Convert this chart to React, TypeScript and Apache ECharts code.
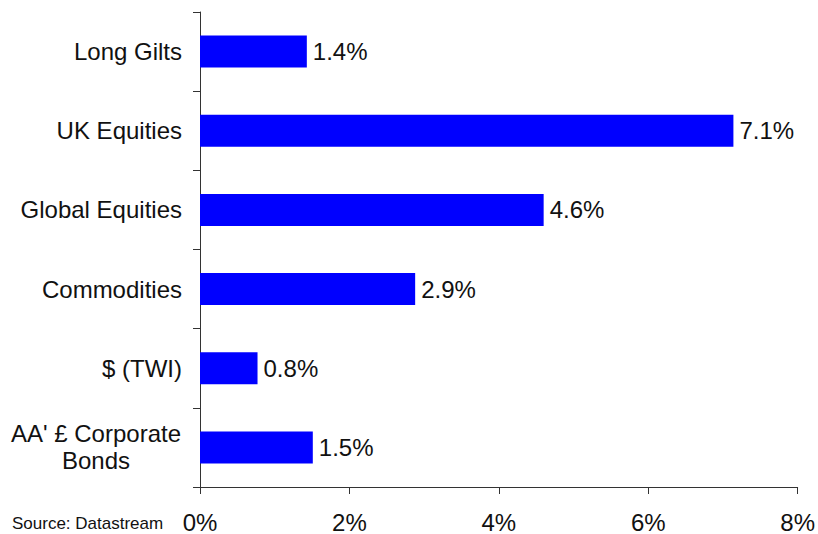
import React, { useEffect, useRef } from "react";
import * as echarts from "echarts";

const categories = [
  "Long Gilts",
  "UK Equities",
  "Global Equities",
  "Commodities",
  "$ (TWI)",
  "AA' £ Corporate\nBonds",
];
const values = [1.43, 7.14, 4.6, 2.88, 0.77, 1.51];
const xTicks = [0, 2, 4, 6, 8];
const sourceText = "Source: Datastream";

export default function App() {
  const ref = useRef<HTMLDivElement>(null);
  useEffect(() => {
    if (!ref.current) return;
    const chart = echarts.init(ref.current, undefined, { renderer: "svg" });
    const font = "'Liberation Sans', Arial, Helvetica, sans-serif";
    chart.setOption({
      animation: false,
      textStyle: { fontFamily: font },
      grid: { left: 200, right: 19, top: 12, bottom: 47, containLabel: false },
      xAxis: {
        type: "value",
        min: xTicks[0],
        max: xTicks[xTicks.length - 1],
        interval: 2,
        splitLine: { show: false },
        axisLine: { show: true, lineStyle: { color: "#333", width: 1 } },
        axisTick: { show: true, length: 7, inside: false, lineStyle: { color: "#333" } },
        axisLabel: {
          margin: 23,
          fontSize: 24,
          color: "#111",
          fontFamily: font,
          formatter: (v: number) => `${v}%`,
        },
      },
      yAxis: {
        type: "category",
        data: categories,
        inverse: true,
        axisLine: { show: true, lineStyle: { color: "#333", width: 1 } },
        axisTick: { show: true, length: 7, lineStyle: { color: "#333" } },
        axisLabel: {
          margin: 18,
          fontSize: 24,
          color: "#111",
          fontFamily: font,
          formatter: (v: string) => {
            if (v.indexOf("\n") >= 0) {
              return v
                .split("\n")
                .map((l) => `{c|${l}}`)
                .join("\n");
            }
            return v;
          },
          rich: {
            c: {
              width: 172,
              align: "center",
              fontSize: 24,
              lineHeight: 27,
              color: "#111",
              fontFamily: font,
            },
          },
        },
      },
      series: [
        {
          type: "bar",
          data: values,
          barWidth: 32,
          itemStyle: { color: "#0000FF" },
          label: {
            show: true,
            position: "right",
            distance: 6,
            fontSize: 24,
            color: "#111",
            fontFamily: font,
            formatter: (p: any) => `${Number(p.value).toFixed(1)}%`,
          },
        },
      ],
      graphic: [
        {
          type: "text",
          left: 12,
          top: 515,
          style: {
            text: sourceText,
            fontSize: 17,
            fill: "#111",
            fontFamily: font,
          },
        },
      ],
    });
    return () => chart.dispose();
  }, []);
  return <div ref={ref} style={{ width: 818, height: 534, position: "absolute", left: 0, top: 0 }} />;
}
